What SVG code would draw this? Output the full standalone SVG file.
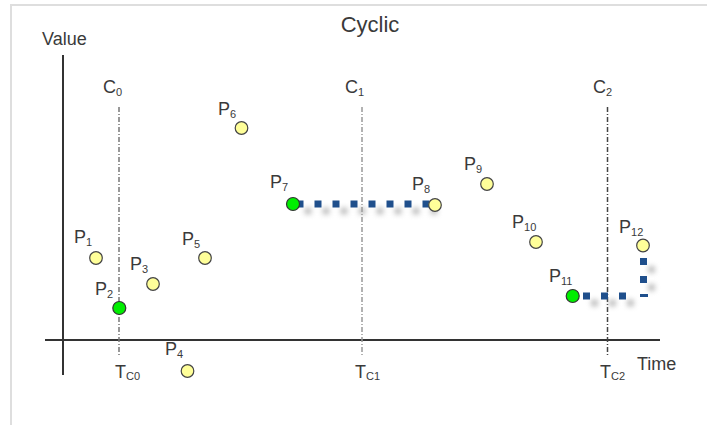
<svg xmlns="http://www.w3.org/2000/svg" width="707" height="425" viewBox="0 0 707 425">
<style>
text{font-family:"Liberation Sans",Arial,sans-serif;fill:#3a3a3a}
.lbl{font-size:18px}
.sub{font-size:11px}
.big{font-size:18px}
.cl{fill:none;stroke-width:1.5;stroke-dasharray:5 2 1 2}
.y{fill:#ffff99;stroke:#444;stroke-width:1.2}
.g{fill:#00ee00;stroke:#333;stroke-width:1.2}
.bd{fill:none;stroke:#1f4f8c;stroke-width:7;stroke-dasharray:7 11}
.sh{fill:none;stroke:#a0a0a0;stroke-width:7;stroke-dasharray:7 11;opacity:0.65;filter:url(#blur)}
</style>
<defs>
<filter id="blur" filterUnits="userSpaceOnUse" x="0" y="0" width="707" height="425"><feGaussianBlur stdDeviation="2.4"/></filter>
</defs>
<rect x="11" y="5" width="720" height="440" fill="#fff" stroke="#dedede" stroke-width="2"/>
<text x="370" y="32" font-size="22" text-anchor="middle">Cyclic</text>
<g id="axes">
<line x1="63" y1="55" x2="63" y2="375" stroke="#333" stroke-width="2"/>
<line x1="45" y1="340" x2="660" y2="340" stroke="#333" stroke-width="2"/>
<text class="big" x="42" y="45">Value</text>
<text class="big" x="637" y="370">Time</text>
</g>
<g id="cycles">
<line class="cl" x1="119" y1="107" x2="119" y2="355" stroke="#777"/>
<line class="cl" x1="362" y1="107" x2="362" y2="355" stroke="#999"/>
<line class="cl" x1="607.5" y1="107" x2="607.5" y2="355" stroke="#444"/>
<text class="lbl" x="103" y="93">C<tspan class="sub" dy="3">0</tspan></text>
<text class="lbl" x="345" y="93">C<tspan class="sub" dy="3">1</tspan></text>
<text class="lbl" x="593" y="93">C<tspan class="sub" dy="3">2</tspan></text>
<text class="lbl" x="115" y="378">T<tspan class="sub" dy="2">C0</tspan></text>
<text class="lbl" x="355" y="378">T<tspan class="sub" dy="2">C1</tspan></text>
<text class="lbl" x="600" y="378">T<tspan class="sub" dy="2">C2</tspan></text>
</g>
<g id="connectors">
<path class="sh" d="M304.5 211 H437.5"/>
<path class="sh" d="M591 303 H638"/>
<path class="sh" d="M651.5 291 V260"/>
<path class="bd" d="M296.5 204 H430"/>
<path class="bd" d="M583 296 H630"/>
<rect x="640" y="294" width="8" height="3" fill="#1f4f8c"/>
<path class="bd" d="M643.5 283 V252"/>
</g>
<g id="p1"><circle class="y" cx="96" cy="258" r="6.3"/><text class="lbl" x="74" y="243">P<tspan class="sub" dy="3">1</tspan></text></g>
<g id="p2"><circle class="g" cx="119.3" cy="308" r="6.5"/><text class="lbl" x="95" y="295">P<tspan class="sub" dy="3">2</tspan></text></g>
<g id="p3"><circle class="y" cx="153" cy="284" r="6.3"/><text class="lbl" x="130" y="270">P<tspan class="sub" dy="3">3</tspan></text></g>
<g id="p4"><circle class="y" cx="187.5" cy="371" r="6.3"/><text class="lbl" x="165" y="355">P<tspan class="sub" dy="3">4</tspan></text></g>
<g id="p5"><circle class="y" cx="205" cy="258" r="6.3"/><text class="lbl" x="182" y="245">P<tspan class="sub" dy="3">5</tspan></text></g>
<g id="p6"><circle class="y" cx="241.5" cy="128" r="6.3"/><text class="lbl" x="218" y="115">P<tspan class="sub" dy="3">6</tspan></text></g>
<g id="p7"><circle class="g" cx="293" cy="204" r="6.5"/><text class="lbl" x="270" y="188">P<tspan class="sub" dy="3">7</tspan></text></g>
<g id="p8"><circle class="y" cx="435" cy="205" r="6.3"/><text class="lbl" x="412" y="190">P<tspan class="sub" dy="3">8</tspan></text></g>
<g id="p9"><circle class="y" cx="487" cy="184" r="6.3"/><text class="lbl" x="464" y="170">P<tspan class="sub" dy="3">9</tspan></text></g>
<g id="p10"><circle class="y" cx="536" cy="242" r="6.3"/><text class="lbl" x="512" y="228">P<tspan class="sub" dy="3">10</tspan></text></g>
<g id="p11"><circle class="g" cx="572.7" cy="296" r="6.5"/><text class="lbl" x="549" y="282">P<tspan class="sub" dy="3">11</tspan></text></g>
<g id="p12"><circle class="y" cx="643" cy="245.5" r="6.3"/><text class="lbl" x="619" y="233">P<tspan class="sub" dy="3">12</tspan></text></g>
</svg>
